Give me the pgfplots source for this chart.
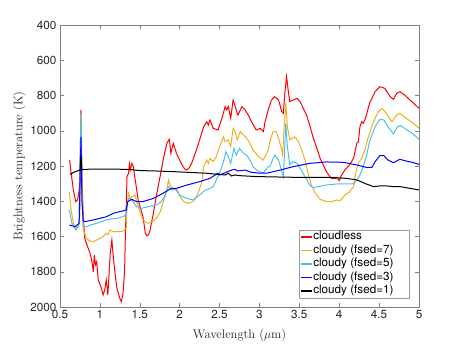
\documentclass[border=0pt]{standalone}
\usepackage{fontspec}
\usepackage{pgfplots}
\pgfplotsset{compat=1.18}
\usetikzlibrary{calc}
\newfontfamily\helv{TeX Gyre Heros}
\definecolor{morange}{rgb}{0.929,0.694,0.125}
\definecolor{mlblue}{rgb}{0.301,0.745,0.933}
\definecolor{mred}{rgb}{1,0,0}
\definecolor{mblue}{rgb}{0,0,1}
\definecolor{txt}{rgb}{0.15,0.15,0.15}
\newcommand{\legtxt}[1]{\makebox[94bp][l]{#1}}
\pgfplotsset{
  mleg/.style={legend image code/.code={\draw[draw=#1,line width=1.3pt] (0bp,0bp) -- (11bp,0bp);}},
}
\begin{document}
\begin{tikzpicture}
\begin{axis}[
  scale only axis, width=359bp, height=282bp,
  xmin=0.5, xmax=5, ymin=400, ymax=2000,
  y dir=reverse,
  xtick={0.5,1,...,5}, ytick={400,600,...,2000},
  xticklabels={0.5,1,1.5,2,2.5,3,3.5,4,4.5,5},
  tick align=inside, major tick length=4bp,
  axis line style={black!50, line width=0.5pt},
  tick style={black!50, line width=0.5pt},
  /pgf/number format/assume math mode=true,
  /pgf/number format/1000 sep={},
  tick label style={font=\helv\fontsize{11.7bp}{14bp}\selectfont, text=txt},
  xlabel={Wavelength ($\mu$m)}, ylabel={Brightness temperature (K)},
  label style={font=\fontsize{12.5bp}{15bp}\selectfont, text=txt},
  xlabel style={yshift=-3bp},
  ylabel style={yshift=-2bp},
  every axis plot/.append style={line width=1pt},
  legend style={at={(0.972,0.032)}, anchor=south east, fill=white, draw=black!40,
    font=\helv\fontsize{11.7bp}{14bp}\selectfont, inner xsep=1bp, inner ysep=0.5bp,
    row sep=1bp,
    nodes={inner sep=0.5bp, text height=8.5bp, text depth=3bp}},
  legend cell align=left,
]
\addplot[mred, forget plot] coordinates {(0.62,1166)(0.646,1261)(0.667,1336)(0.697,1402)(0.72,1393)(0.74,1336)(0.75,1241)(0.763,882)(0.775,1250)(0.79,1480)(0.81,1610)(0.84,1650)(0.876,1694)(0.90,1740)(0.917,1800)(0.93,1705)(0.945,1760)(0.96,1743)(0.98,1847)(1.0,1870)(1.02,1894)(1.04,1932)(1.06,1904)(1.08,1847)(1.10,1932)(1.12,1771)(1.13,1694)(1.15,1620)(1.17,1724)(1.19,1809)(1.21,1885)(1.23,1920)(1.25,1951)(1.27,1970)(1.29,1922)(1.31,1790)(1.32,1582)(1.33,1431)(1.34,1260)(1.36,1241)(1.37,1190)(1.38,1223)(1.40,1185)(1.42,1204)(1.44,1270)(1.46,1330)(1.48,1393)(1.51,1440)(1.54,1488)(1.57,1582)(1.59,1597)(1.61,1590)(1.63,1563)(1.67,1468)(1.70,1390)(1.73,1317)(1.77,1223)(1.80,1150)(1.82,1109)(1.84,1071)(1.87,1048)(1.89,1128)(1.92,1071)(1.96,1128)(2.02,1185)(2.06,1215)(2.09,1223)(2.12,1210)(2.15,1185)(2.21,1109)(2.25,1052)(2.30,977)(2.34,949)(2.36,967)(2.38,939)(2.42,986)(2.48,996)(2.53,929)(2.57,863)(2.59,882)(2.61,863)(2.64,929)(2.67,826)(2.69,854)(2.73,911)(2.78,863)(2.82,882)(2.86,911)(2.90,949)(2.96,996)(3.01,986)(3.05,1005)(3.07,949)(3.11,882)(3.15,826)(3.19,807)(3.24,826)(3.28,892)(3.30,901)(3.32,778)(3.34,693)(3.36,769)(3.38,835)(3.42,826)(3.47,816)(3.51,835)(3.55,873)(3.59,911)(3.63,967)(3.67,1034)(3.72,1100)(3.76,1156)(3.80,1194)(3.84,1232)(3.90,1270)(3.95,1270)(3.97,1264)(4.0,1283)(4.03,1251)(4.07,1223)(4.13,1194)(4.18,1156)(4.22,1071)(4.24,1062)(4.26,977)(4.28,949)(4.30,958)(4.33,929)(4.38,844)(4.45,778)(4.51,750)(4.57,759)(4.64,807)(4.68,822)(4.72,788)(4.76,778)(4.82,797)(4.91,835)(5.0,873)};
\addplot[morange, forget plot] coordinates {(0.617,1346)(0.64,1450)(0.67,1530)(0.69,1554)(0.73,1544)(0.75,1480)(0.763,900)(0.775,1300)(0.79,1560)(0.83,1610)(0.87,1625)(0.92,1629)(0.96,1620)(1.0,1610)(1.04,1600)(1.08,1582)(1.10,1590)(1.13,1563)(1.17,1573)(1.21,1573)(1.27,1573)(1.30,1565)(1.33,1554)(1.34,1420)(1.36,1355)(1.38,1385)(1.40,1374)(1.44,1365)(1.48,1431)(1.54,1506)(1.58,1520)(1.61,1525)(1.65,1518)(1.69,1506)(1.75,1468)(1.79,1412)(1.84,1336)(1.86,1279)(1.88,1308)(1.92,1336)(1.96,1327)(2.02,1384)(2.06,1405)(2.11,1412)(2.17,1402)(2.23,1355)(2.28,1289)(2.30,1204)(2.34,1166)(2.36,1185)(2.38,1156)(2.42,1175)(2.46,1147)(2.50,1090)(2.55,1034)(2.57,1062)(2.61,1052)(2.64,1090)(2.67,986)(2.69,996)(2.72,1052)(2.76,1005)(2.80,1024)(2.84,1043)(2.88,1071)(2.92,1109)(2.99,1147)(3.05,1166)(3.11,1109)(3.13,1062)(3.17,1005)(3.21,1005)(3.24,1043)(3.28,1109)(3.29,1147)(3.31,977)(3.33,844)(3.35,977)(3.38,1052)(3.44,1034)(3.49,1062)(3.53,1109)(3.57,1166)(3.61,1241)(3.65,1308)(3.70,1355)(3.76,1389)(3.84,1402)(3.90,1402)(3.97,1393)(4.01,1397)(4.07,1365)(4.13,1346)(4.18,1317)(4.21,1232)(4.24,1185)(4.28,1156)(4.32,1109)(4.36,1043)(4.43,949)(4.49,892)(4.54,873)(4.59,901)(4.66,949)(4.72,911)(4.76,901)(4.84,929)(4.93,958)(5.0,986)};
\addplot[mlblue, forget plot] coordinates {(0.617,1450)(0.65,1525)(0.70,1563)(0.74,1530)(0.763,900)(0.775,1350)(0.79,1540)(0.83,1545)(0.88,1535)(0.96,1525)(1.02,1515)(1.08,1506)(1.15,1500)(1.21,1497)(1.27,1490)(1.33,1478)(1.345,1410)(1.36,1384)(1.40,1393)(1.46,1431)(1.52,1440)(1.61,1431)(1.71,1421)(1.77,1402)(1.82,1365)(1.86,1317)(1.90,1336)(1.94,1327)(2.0,1365)(2.09,1384)(2.17,1393)(2.25,1365)(2.32,1336)(2.34,1336)(2.42,1317)(2.50,1241)(2.55,1175)(2.58,1119)(2.61,1147)(2.64,1185)(2.68,1100)(2.71,1138)(2.75,1100)(2.80,1128)(2.84,1138)(2.88,1166)(2.92,1204)(2.99,1232)(3.05,1238)(3.11,1204)(3.13,1204)(3.19,1138)(3.24,1166)(3.28,1232)(3.30,1260)(3.32,1071)(3.33,958)(3.35,1090)(3.38,1194)(3.42,1175)(3.47,1185)(3.51,1213)(3.57,1260)(3.63,1308)(3.67,1323)(3.74,1317)(3.84,1308)(3.97,1302)(4.09,1302)(4.18,1302)(4.22,1279)(4.26,1251)(4.30,1204)(4.34,1147)(4.38,1062)(4.45,977)(4.51,935)(4.56,939)(4.61,977)(4.68,1019)(4.73,977)(4.77,971)(4.84,992)(4.93,1019)(5.0,1049)};
\addplot[mblue, forget plot] coordinates {(0.617,1535)(0.69,1544)(0.74,1525)(0.763,1035)(0.775,1400)(0.79,1510)(0.81,1516)(0.92,1506)(1.0,1497)(1.08,1488)(1.17,1468)(1.25,1459)(1.33,1450)(1.35,1402)(1.40,1389)(1.46,1402)(1.54,1402)(1.67,1384)(1.79,1355)(1.86,1336)(1.90,1327)(1.96,1327)(2.09,1308)(2.25,1289)(2.38,1270)(2.48,1241)(2.50,1251)(2.57,1238)(2.65,1223)(2.69,1219)(2.73,1228)(2.82,1223)(2.90,1236)(3.01,1241)(3.09,1241)(3.26,1223)(3.42,1204)(3.63,1185)(3.84,1177)(4.05,1179)(4.22,1194)(4.34,1208)(4.41,1208)(4.45,1175)(4.51,1141)(4.56,1141)(4.61,1166)(4.68,1181)(4.76,1162)(4.84,1172)(4.93,1181)(5.0,1191)};
\addplot[black, forget plot] coordinates {(0.625,1247)(0.69,1232)(0.75,1223)(0.763,1150)(0.775,1222)(0.81,1219)(0.98,1217)(1.36,1219)(1.50,1226)(1.69,1228)(1.92,1232)(2.34,1241)(2.57,1251)(2.61,1241)(2.65,1257)(2.69,1251)(2.76,1255)(2.96,1260)(3.42,1264)(3.84,1264)(4.09,1270)(4.22,1279)(4.34,1302)(4.43,1317)(4.51,1313)(4.59,1313)(4.68,1317)(4.76,1317)(4.89,1327)(5.0,1336)};
\addlegendimage{mleg=mred}
\addlegendentry{\legtxt{cloudless}}
\addlegendimage{mleg=morange}
\addlegendentry{\legtxt{cloudy (fsed=7)}}
\addlegendimage{mleg=mlblue}
\addlegendentry{\legtxt{cloudy (fsed=5)}}
\addlegendimage{mleg=mblue}
\addlegendentry{\legtxt{cloudy (fsed=3)}}
\addlegendimage{mleg=black}
\addlegendentry{\legtxt{cloudy (fsed=1)}}
\end{axis}
\path[use as bounding box] ($(current axis.south west)+(-60bp,-39bp)$) rectangle ($(current axis.north east)+(44bp,25bp)$);
\end{tikzpicture}
\end{document}
